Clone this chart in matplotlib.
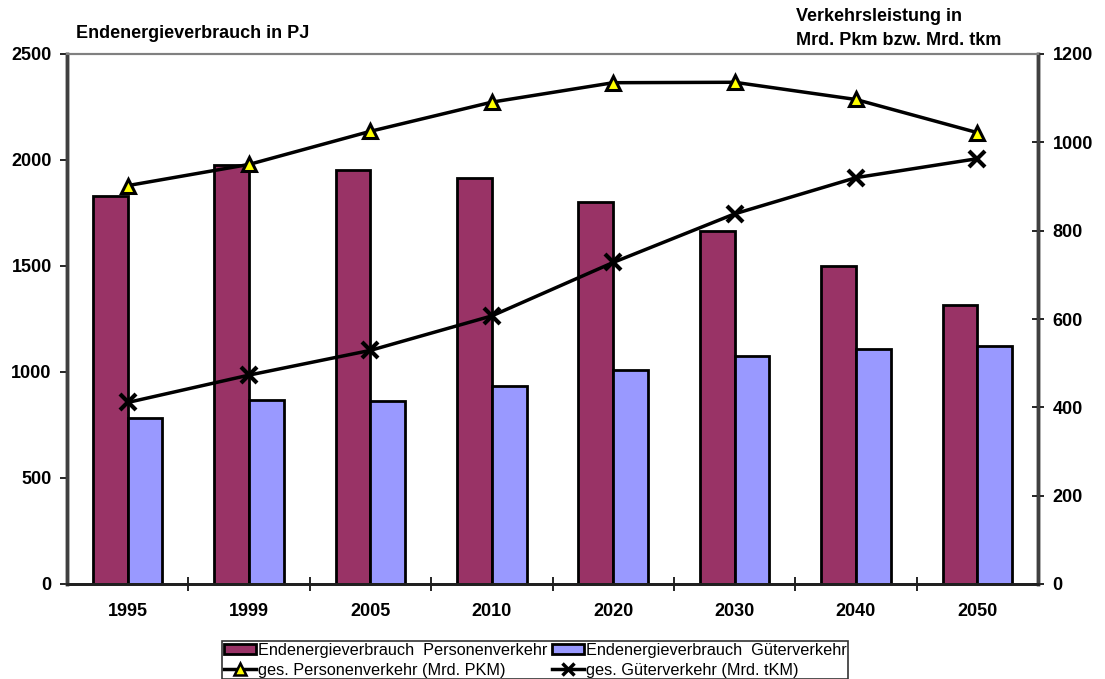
import matplotlib
matplotlib.use("Agg")
import matplotlib.pyplot as plt
import numpy as np
from matplotlib.patches import Patch
from matplotlib.lines import Line2D

plt.rcParams['font.family'] = ['Liberation Sans', 'DejaVu Sans']

years = ["1995", "1999", "2005", "2010", "2020", "2030", "2040", "2050"]
energie_personen = [1828, 1978, 1953, 1917, 1804, 1663, 1499, 1314]
energie_gueter = [785, 870, 862, 934, 1011, 1074, 1110, 1121]
pkm = [902, 950, 1025, 1091, 1135, 1136, 1097, 1022]
tkm = [411, 473, 529, 607, 728, 838, 920, 963]

left_ticks = [0, 500, 1000, 1500, 2000, 2500]
right_ticks = [0, 200, 400, 600, 800, 1000, 1200]

col_p = "#993366"
col_g = "#9999FF"

fig = plt.figure(figsize=(11.05, 6.79), dpi=100)
ax = fig.add_axes([67/1105, 1-584/679, (1038-67)/1105, (584-54)/679])
ax2 = ax.twinx()

x = np.arange(len(years))
w = 0.286
ax.bar(x - w/2, energie_personen, width=w, color=col_p, edgecolor="black", linewidth=2, zorder=2)
ax.bar(x + w/2, energie_gueter, width=w, color=col_g, edgecolor="black", linewidth=2, zorder=2)

ax2.plot(x, pkm, color="black", lw=2.5, marker="^", markersize=10.5,
         markerfacecolor="#FFFF00", markeredgecolor="black", markeredgewidth=2.2, zorder=3)
ax2.plot(x, tkm, color="black", lw=2.5, marker="x", markersize=11,
         markeredgecolor="black", markeredgewidth=3, zorder=3)

ax.set_xlim(-0.5, len(years) - 0.5)
ax.set_ylim(0, 2500)
ax2.set_ylim(0, 1200)
ax.set_yticks(left_ticks)
ax.set_yticklabels([str(t) for t in left_ticks], fontsize=13, fontweight="bold")
ax2.set_yticks(right_ticks)
ax2.set_yticklabels([str(t) for t in right_ticks], fontsize=13, fontweight="bold")
ax.set_xticks(x)
ax.set_xticklabels(years, fontsize=13, fontweight="bold")
ax.set_xticks(np.arange(0.5, len(years) - 0.5, 1), minor=True)
ax.tick_params(axis="x", which="major", length=0, pad=14)
ax.tick_params(axis="x", which="minor", direction="inout", length=10, width=1.2)
ax.tick_params(axis="y", direction="out", length=5, width=1.2, pad=6)
ax2.tick_params(axis="y", direction="inout", length=9, width=1.2, pad=6)

for a in (ax, ax2):
    a.spines["top"].set_color("#808080")
    a.spines["top"].set_linewidth(1.5)
    a.spines["left"].set_color("#404040")
    a.spines["left"].set_linewidth(2.5)
    a.spines["right"].set_color("#404040")
    a.spines["right"].set_linewidth(2.5)
    a.spines["bottom"].set_color("#202020")
    a.spines["bottom"].set_linewidth(2)

fig.text(76/1105, 1-33/679, "Endenergieverbrauch in PJ", fontsize=13, fontweight="bold",
         ha="left", va="center")
fig.text(796/1105, 1-28.5/679, "Verkehrsleistung in\nMrd. Pkm bzw. Mrd. tkm", fontsize=13,
         fontweight="bold", ha="left", va="center", linespacing=1.55)

handles = [
    Patch(facecolor=col_p, edgecolor="black", linewidth=2),
    Line2D([], [], color="black", lw=2.5, marker="^", markersize=8,
           markerfacecolor="#FFFF00", markeredgecolor="black", markeredgewidth=1.8),
    Patch(facecolor=col_g, edgecolor="black", linewidth=2),
    Line2D([], [], color="black", lw=2.5, marker="x", markersize=8,
           markeredgecolor="black", markeredgewidth=2.5),
]
labels = [
    "Endenergieverbrauch  Personenverkehr",
    "ges. Personenverkehr (Mrd. PKM)",
    "Endenergieverbrauch  Güterverkehr",
    "ges. Güterverkehr (Mrd. tKM)",
]
leg = fig.legend(handles, labels, ncol=2, loc="upper left",
                 bbox_to_anchor=(222/1105, 1-641/679), fontsize=11.7,
                 frameon=True, fancybox=False, edgecolor="black",
                 handlelength=2.0, handleheight=0.6, handletextpad=0.12,
                 columnspacing=0.25, borderpad=0.1, labelspacing=0.3,
                 borderaxespad=0)
leg.get_frame().set_linewidth(1.2)

fig.savefig("out.png", dpi=100)
